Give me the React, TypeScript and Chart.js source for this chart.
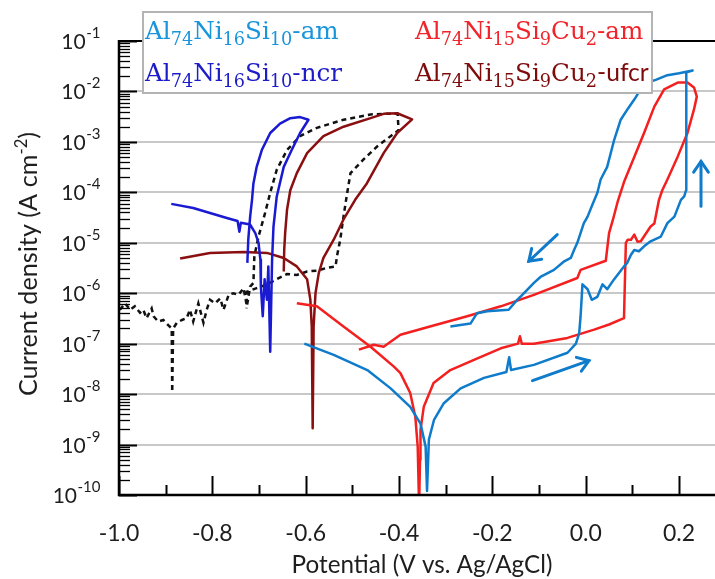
import React, { useEffect, useRef } from 'react';
import { Chart, registerables } from 'chart.js';

Chart.register(...registerables);

// ---------- axes ----------
const X_MIN = -1.0;
const X_MAX = 0.277;
const Y_MIN = 1e-10;
const Y_MAX = 1e-1;
const xMajorTicks = [-1.0, -0.8, -0.6, -0.4, -0.2, 0.0, 0.2];
const xMajorLabels = ['-1.0', '-0.8', '-0.6', '-0.4', '-0.2', '0.0', '0.2'];
const xMinorTicks = [-0.9, -0.7, -0.5, -0.3, -0.1, 0.1];
const yDecades = [-10, -9, -8, -7, -6, -5, -4, -3, -2, -1];
const yMinorMultipliers = [2, 3, 4, 5, 6, 7, 8, 9];
const xTitle = 'Potential (V vs. Ag/AgCl)';
const yTitleMain = 'Current density (A cm';
const yTitleSup = '-2';
const yTitleEnd = ')';

// ---------- series: Al74Ni16Si10-am ----------
const am16V = [-0.603, -0.540, -0.468, -0.418, -0.376, -0.354, -0.343, -0.340, -0.336, -0.325, -0.304, -0.268, -0.218, -0.170, -0.164, -0.160, -0.111, -0.039, -0.021, -0.014, -0.011, -0.007, 0.004, 0.013, 0.025, 0.036, 0.046, 0.061, 0.082, 0.089, 0.097, 0.104, 0.114, 0.125, 0.139, 0.161, 0.175, 0.190, 0.204, 0.211, 0.215, 0.215, 0.216, 0.229, 0.200, 0.175, 0.150, 0.132, 0.115, 0.104, 0.090, 0.075, 0.061, 0.046, 0.032, 0.025, 0.014, 0.004, -0.004, -0.018, -0.025, -0.032, -0.046, -0.068, -0.097, -0.111, -0.140, -0.147, -0.165, -0.211, -0.233, -0.247, -0.290];
const am16I = [1.0e-7, 6.0e-8, 3.0e-8, 1.3e-8, 5.6e-9, 2.6e-9, 9.1e-10, 1.2e-10, 1.26e-9, 3.1e-9, 6.6e-9, 1.3e-8, 2.1e-8, 2.75e-8, 5.4e-8, 3.0e-8, 3.8e-8, 6.6e-8, 1.0e-7, 1.6e-7, 3.5e-7, 1.5e-6, 1.2e-6, 7.4e-7, 8.5e-7, 1.5e-6, 1.2e-6, 1.9e-6, 3.4e-6, 4.0e-6, 5.8e-6, 7.2e-6, 6.8e-6, 8.5e-6, 1.07e-5, 1.33e-5, 2.45e-5, 3.3e-5, 7.1e-5, 8.3e-5, 1.1e-4, 6.9e-3, 2.4e-2, 2.6e-2, 2.3e-2, 2.1e-2, 1.7e-2, 1.5e-2, 1.0e-2, 6.9e-3, 4.5e-3, 2.75e-3, 1.1e-3, 3.2e-4, 1.8e-4, 9.8e-5, 5.6e-5, 3.3e-5, 2.45e-5, 1.0e-5, 7.2e-6, 5.0e-6, 4.3e-6, 2.9e-6, 2.1e-6, 1.6e-6, 8.5e-7, 7.4e-7, 4.7e-7, 4.4e-7, 4.0e-7, 2.5e-7, 2.2e-7];

// ---------- series: Al74Ni16Si10-ncr ----------
const ncrV = [-0.888, -0.841, -0.805, -0.769, -0.746, -0.742, -0.739, -0.719, -0.708, -0.701, -0.697, -0.696, -0.692, -0.688, -0.683, -0.680, -0.676, -0.672, -0.669, -0.662, -0.647, -0.630, -0.612, -0.594, -0.612, -0.633, -0.655, -0.676, -0.694, -0.705, -0.712, -0.715, -0.719, -0.723, -0.725];
const ncrI = [5.9e-5, 4.9e-5, 3.9e-5, 3.1e-5, 2.7e-5, 1.66e-5, 2.5e-5, 2.3e-5, 1.55e-5, 1.0e-5, 4.6e-6, 1.35e-6, 3.5e-7, 1.9e-6, 7.4e-7, 3.4e-6, 6.9e-8, 4.6e-6, 2.1e-5, 8.3e-5, 3.2e-4, 6.9e-4, 1.5e-3, 2.75e-3, 3.1e-3, 2.95e-3, 2.3e-3, 1.5e-3, 6.9e-4, 3.2e-4, 1.5e-4, 7.1e-5, 3.3e-5, 1.15e-5, 4.0e-6];

// ---------- series: Al74Ni15Si9Cu2-am ----------
const am15V = [-0.619, -0.576, -0.519, -0.461, -0.411, -0.397, -0.376, -0.365, -0.360, -0.357, -0.355, -0.354, -0.347, -0.326, -0.290, -0.232, -0.182, -0.145, -0.141, -0.137, -0.111, -0.039, 0.018, 0.050, 0.082, 0.086, 0.090, 0.097, 0.104, 0.111, 0.118, 0.139, 0.147, 0.157, 0.164, 0.175, 0.197, 0.218, 0.232, 0.238, 0.232, 0.218, 0.197, 0.168, 0.147, 0.125, 0.104, 0.082, 0.068, 0.058, 0.050, 0.043, -0.011, -0.018, -0.111, -0.182, -0.254, -0.326, -0.397, -0.433, -0.454, -0.486];
const am15I = [6.3e-7, 5.5e-7, 2.2e-7, 8.7e-8, 3.5e-8, 2.6e-8, 1.05e-8, 3.5e-9, 9.1e-10, 6e-11, 5e-10, 1.95e-9, 5.6e-9, 1.66e-8, 3.0e-8, 5.1e-8, 8.1e-8, 1.0e-7, 1.4e-7, 1.0e-7, 1.0e-7, 1.3e-7, 1.9e-7, 2.4e-7, 3.2e-7, 1.0e-5, 1.15e-5, 1.15e-5, 1.45e-5, 1.05e-5, 1.07e-5, 2.1e-5, 2.4e-5, 7.1e-5, 1.1e-4, 1.8e-4, 5.1e-4, 1.5e-3, 4.4e-3, 7.9e-3, 1.2e-2, 1.5e-2, 1.5e-2, 1.1e-2, 5.0e-3, 1.5e-3, 5.0e-4, 1.6e-4, 6.3e-5, 2.8e-5, 1.55e-5, 4.4e-6, 2.9e-6, 2.0e-6, 9.3e-7, 5.5e-7, 3.5e-7, 2.3e-7, 1.5e-7, 8.7e-8, 9.5e-8, 7.6e-8];

// ---------- series: Al74Ni15Si9Cu2-ufcr ----------
const ufcrV = [-0.869, -0.805, -0.733, -0.683, -0.647, -0.619, -0.597, -0.590, -0.587, -0.585, -0.583, -0.579, -0.572, -0.562, -0.540, -0.519, -0.494, -0.469, -0.433, -0.404, -0.372, -0.404, -0.433, -0.461, -0.519, -0.562, -0.597, -0.619, -0.633, -0.640, -0.644, -0.646, -0.647];
const ufcrI = [4.9e-6, 6.3e-6, 6.6e-6, 6.3e-6, 5.0e-6, 3.4e-6, 1.9e-6, 7.4e-7, 2.2e-7, 2.1e-9, 2.2e-7, 1.0e-6, 2.5e-6, 5.0e-6, 1.15e-5, 2.9e-5, 7.1e-5, 1.5e-4, 6.0e-4, 1.5e-3, 2.8e-3, 3.7e-3, 3.6e-3, 2.95e-3, 2.0e-3, 1.3e-3, 6.0e-4, 2.4e-4, 1.1e-4, 4.5e-5, 1.55e-5, 7.2e-6, 2.7e-6];

// ---------- series: black dashed (unlabelled) ----------
const dashV = [-0.998, -0.987, -0.976, -0.966, -0.955, -0.948, -0.941, -0.930, -0.926, -0.916, -0.905, -0.894, -0.887, -0.886, -0.884, -0.876, -0.865, -0.855, -0.848, -0.841, -0.830, -0.819, -0.812, -0.805, -0.794, -0.783, -0.776, -0.765, -0.755, -0.744, -0.733, -0.726, -0.719, -0.712, -0.710, -0.701, -0.687, -0.676, -0.662, -0.640, -0.612, -0.576, -0.519, -0.461, -0.426, -0.403, -0.401, -0.418, -0.447, -0.476, -0.504, -0.511, -0.519, -0.526, -0.533, -0.536, -0.554, -0.576, -0.597, -0.619, -0.640, -0.662, -0.683, -0.705, -0.726, -0.727];
const dashI = [4.7e-7, 6.3e-7, 4.7e-7, 5.5e-7, 4.1e-7, 4.7e-7, 3.2e-7, 5.0e-7, 3.5e-7, 2.75e-7, 2.95e-7, 2.3e-7, 2.0e-7, 1.1e-8, 2.0e-7, 2.6e-7, 2.95e-7, 3.2e-7, 4.7e-7, 2.75e-7, 6.3e-7, 2.6e-7, 4.7e-7, 7.4e-7, 6.3e-7, 7.9e-7, 4.7e-7, 9.3e-7, 1.0e-6, 9.3e-7, 1.26e-6, 5.5e-7, 1.35e-6, 1.6e-6, 5.4e-6, 1.33e-5, 3.9e-5, 9.8e-5, 2.8e-4, 6.9e-4, 1.3e-3, 1.9e-3, 2.75e-3, 3.5e-3, 3.6e-3, 3.6e-3, 1.7e-3, 1.3e-3, 8.1e-4, 4.5e-4, 2.4e-4, 9.8e-5, 3.3e-5, 1.15e-5, 5.4e-6, 3.4e-6, 3.2e-6, 2.8e-6, 2.7e-6, 2.3e-6, 2.4e-6, 1.9e-6, 1.5e-6, 1.26e-6, 1.07e-6, 5.0e-7];

// ---------- scan-direction arrows ----------
const arrowFromV = [-0.061, 0.247, -0.114];
const arrowFromI = [1.45e-5, 5.3e-5, 1.85e-8];
const arrowToV = [-0.122, 0.247, 0.007];
const arrowToI = [4.3e-6, 4.1e-4, 4.6e-8];

// ---------- legend labels (text, kind) ----------
const labelAm16: [string, string][] = [['Al', 'n'], ['74', 'sub'], ['Ni', 'n'], ['16', 'sub'], ['Si', 'n'], ['10', 'sub'], ['-am', 'n']];
const labelNcr: [string, string][] = [['Al', 'n'], ['74', 'sub'], ['Ni', 'n'], ['16', 'sub'], ['Si', 'n'], ['10', 'sub'], ['-ncr', 'n']];
const labelAm15: [string, string][] = [['Al', 'n'], ['74', 'sub'], ['Ni', 'n'], ['15', 'sub'], ['Si', 'n'], ['9', 'sub'], ['Cu', 'n'], ['2', 'sub'], ['-am', 'n']];
const labelUfcr: [string, string][] = [['Al', 'n'], ['74', 'sub'], ['Ni', 'n'], ['15', 'sub'], ['Si', 'n'], ['9', 'sub'], ['Cu', 'n'], ['2', 'sub'], ['-ufcr', 'sans']];

const COL_AM16 = '#0f7bcb';
const COL_NCR = '#1a1ad2';
const COL_AM15 = '#f41f1f';
const COL_UFCR = '#8a0f10';

const pts = (xs: number[], ys: number[]) => xs.map((x, i) => ({ x, y: ys[i] }));

const SANS = 'Lato, "Open Sans", sans-serif';
const SERIF = '"DejaVu Serif", serif';

function richWidth(ctx: CanvasRenderingContext2D, segs: [string, string][], size: number) {
  let w = 0;
  for (const [t, kind] of segs) {
    if (kind === 'sub') ctx.font = `${size * 0.72}px ${SERIF}`;
    else if (kind === 'sans') ctx.font = `${size}px ${SANS}`;
    else ctx.font = `${size}px ${SERIF}`;
    w += ctx.measureText(t).width;
  }
  return w;
}

function drawRich(ctx: CanvasRenderingContext2D, segs: [string, string][], x: number, baseline: number, color: string, size: number) {
  let cx = x;
  ctx.fillStyle = color;
  ctx.textAlign = 'left';
  ctx.textBaseline = 'alphabetic';
  for (const [t, kind] of segs) {
    let dy = 0;
    if (kind === 'sub') {
      ctx.font = `${size * 0.72}px ${SERIF}`;
      dy = size * 0.26;
    } else if (kind === 'sans') {
      ctx.font = `${size}px ${SANS}`;
    } else {
      ctx.font = `${size}px ${SERIF}`;
    }
    ctx.fillText(t, cx, baseline + dy);
    cx += ctx.measureText(t).width;
  }
}

function fitSize(ctx: CanvasRenderingContext2D, text: string, family: string, target: number) {
  ctx.font = `20px ${family}`;
  return (20 * target) / ctx.measureText(text).width;
}

const decorPlugin = {
  id: 'decor',
  beforeDatasetsDraw(chart: any) {
    const { ctx, chartArea: a, scales } = chart;
    const y = scales.y;
    ctx.save();
    ctx.strokeStyle = '#c8c8c8';
    ctx.lineWidth = 2;
    for (const e of yDecades) {
      if (e <= -10 || e >= -1) continue;
      const py = Math.round(y.getPixelForValue(Math.pow(10, e)));
      ctx.beginPath();
      ctx.moveTo(a.left, py);
      ctx.lineTo(a.right, py);
      ctx.stroke();
    }
    ctx.restore();
  },
  afterDatasetsDraw(chart: any) {
    const { ctx } = chart;
    ctx.save();
    chart.data.datasets.forEach((ds: any, i: number) => {
      if (!ds.isArrow) return;
      const meta = chart.getDatasetMeta(i);
      const p0 = meta.data[0];
      const p1 = meta.data[1];
      const ang = Math.atan2(p1.y - p0.y, p1.x - p0.x);
      const L = 13;
      const spread = 0.6;
      ctx.strokeStyle = ds.borderColor;
      ctx.lineWidth = ds.borderWidth;
      ctx.lineCap = 'round';
      ctx.beginPath();
      ctx.moveTo(p1.x - L * Math.cos(ang - spread), p1.y - L * Math.sin(ang - spread));
      ctx.lineTo(p1.x, p1.y);
      ctx.lineTo(p1.x - L * Math.cos(ang + spread), p1.y - L * Math.sin(ang + spread));
      ctx.stroke();
    });
    ctx.restore();
  },
  afterDraw(chart: any) {
    const { ctx, chartArea: a, scales } = chart;
    const x = scales.x;
    const y = scales.y;
    ctx.save();
    ctx.strokeStyle = '#000';
    ctx.lineCap = 'butt';

    // top line at 1e-1
    ctx.lineWidth = 2;
    ctx.beginPath();
    ctx.moveTo(a.left, a.top);
    ctx.lineTo(a.right, a.top);
    ctx.stroke();

    // y ticks (inward)
    for (const e of yDecades) {
      const py = Math.round(y.getPixelForValue(Math.pow(10, e))) + 0.5;
      ctx.lineWidth = 2;
      ctx.beginPath();
      ctx.moveTo(a.left, py);
      ctx.lineTo(a.left + 18, py);
      ctx.stroke();
      if (e < -1) {
        ctx.lineWidth = 1.3;
        for (const k of yMinorMultipliers) {
          const pm = Math.round(y.getPixelForValue(k * Math.pow(10, e))) + 0.5;
          ctx.beginPath();
          ctx.moveTo(a.left, pm);
          ctx.lineTo(a.left + 11, pm);
          ctx.stroke();
        }
      }
    }
    // x ticks (upward)
    ctx.lineWidth = 2;
    for (const v of xMajorTicks) {
      const px = Math.round(x.getPixelForValue(v)) + 0.5;
      ctx.beginPath();
      ctx.moveTo(px, a.bottom);
      ctx.lineTo(px, a.bottom - 19);
      ctx.stroke();
    }
    for (const v of xMinorTicks) {
      const px = Math.round(x.getPixelForValue(v)) + 0.5;
      ctx.beginPath();
      ctx.moveTo(px, a.bottom);
      ctx.lineTo(px, a.bottom - 10);
      ctx.stroke();
    }

    // axis lines
    ctx.lineWidth = 2.5;
    ctx.beginPath();
    ctx.moveTo(a.left, a.top - 1);
    ctx.lineTo(a.left, a.bottom);
    ctx.lineTo(a.right, a.bottom);
    ctx.stroke();

    // x tick labels
    ctx.fillStyle = '#1e1e1e';
    ctx.font = `23px ${SANS}`;
    ctx.textAlign = 'center';
    ctx.textBaseline = 'alphabetic';
    xMajorTicks.forEach((v, i) => {
      ctx.fillText(xMajorLabels[i], x.getPixelForValue(v), a.bottom + 46);
    });

    // y tick labels 10^e
    const rightEdge = a.left - 19;
    for (const e of yDecades) {
      const py = y.getPixelForValue(Math.pow(10, e));
      ctx.textAlign = 'left';
      ctx.font = `15px ${SANS}`;
      const expT = String(e);
      const we = ctx.measureText(expT).width;
      ctx.font = `21px ${SANS}`;
      const wm = ctx.measureText('10').width;
      const x0 = rightEdge - we - wm;
      ctx.fillText('10', x0, py + 8);
      ctx.font = `15px ${SANS}`;
      ctx.fillText(expT, x0 + wm + 0.5, py - 3);
    }

    // x title
    const xs = fitSize(ctx, xTitle, SANS, 261);
    ctx.font = `${xs}px ${SANS}`;
    ctx.textAlign = 'center';
    ctx.fillText(xTitle, 422, a.bottom + 78);

    // y title (rotated)
    ctx.save();
    ctx.translate(37, 264);
    ctx.rotate(-Math.PI / 2);
    const ys = fitSize(ctx, yTitleMain + ')', SANS, 248);
    const ss = ys * 0.66;
    ctx.font = `${ys}px ${SANS}`;
    const w1 = ctx.measureText(yTitleMain).width;
    ctx.font = `${ss}px ${SANS}`;
    const w2 = ctx.measureText(yTitleSup).width;
    ctx.font = `${ys}px ${SANS}`;
    const w3 = ctx.measureText(yTitleEnd).width;
    const total = w1 + w2 + w3;
    let cx = -total / 2;
    ctx.textAlign = 'left';
    ctx.fillText(yTitleMain, cx, 0);
    cx += w1;
    ctx.font = `${ss}px ${SANS}`;
    ctx.fillText(yTitleSup, cx, -ys * 0.4);
    cx += w2;
    ctx.font = `${ys}px ${SANS}`;
    ctx.fillText(yTitleEnd, cx, 0);
    ctx.restore();

    // legend box
    ctx.fillStyle = '#ffffff';
    ctx.fillRect(143, 12, 509, 81);
    ctx.strokeStyle = '#b4b4b4';
    ctx.lineWidth = 2;
    ctx.strokeRect(143, 12, 509, 81);
    const s1 = (24 * 194) / richWidth(ctx, labelAm16, 24);
    const s2 = (24 * 228) / richWidth(ctx, labelAm15, 24);
    const ls = (s1 + s2) / 2;
    drawRich(ctx, labelAm16, 145, 39, '#1a95db', ls);
    drawRich(ctx, labelNcr, 145, 81, '#1c1cc8', ls);
    drawRich(ctx, labelAm15, 415, 39, '#f0242a', ls);
    drawRich(ctx, labelUfcr, 415, 81, '#7e0b0b', ls);

    ctx.restore();
  },
};

export default function App() {
  const ref = useRef<HTMLCanvasElement>(null);
  useEffect(() => {
    const line = (data: any[], color: string, extra: any = {}) => ({
      data,
      showLine: true,
      borderColor: color,
      backgroundColor: color,
      borderWidth: 2.5,
      pointRadius: 0,
      pointHoverRadius: 0,
      fill: false,
      tension: 0,
      borderJoinStyle: 'round',
      ...extra,
    });
    const datasets: any[] = [
      line(pts(am16V, am16I), COL_AM16, { label: 'Al74Ni16Si10-am' }),
      line(pts(ncrV, ncrI), COL_NCR, { label: 'Al74Ni16Si10-ncr' }),
      line(pts(am15V, am15I), COL_AM15, { label: 'Al74Ni15Si9Cu2-am' }),
      line(pts(ufcrV, ufcrI), COL_UFCR, { label: 'Al74Ni15Si9Cu2-ufcr' }),
      line(pts(dashV, dashI), '#111111', { label: 'dashed', borderDash: [5, 4], borderJoinStyle: 'miter' }),
    ];
    arrowFromV.forEach((v, i) => {
      datasets.push(
        line(
          [
            { x: v, y: arrowFromI[i] },
            { x: arrowToV[i], y: arrowToI[i] },
          ],
          COL_AM16,
          { label: 'arrow' + i, isArrow: true, borderWidth: 3, borderCapStyle: 'round' }
        )
      );
    });

    const chart = new Chart(ref.current as HTMLCanvasElement, {
      type: 'scatter',
      data: { datasets },
      options: {
        animation: false,
        responsive: false,
        events: [],
        layout: { padding: { left: 119, top: 41, right: 0, bottom: 84 } },
        scales: {
          x: { type: 'linear', min: X_MIN, max: X_MAX, display: false },
          y: { type: 'logarithmic', min: Y_MIN, max: Y_MAX, display: false },
        },
        plugins: { legend: { display: false }, tooltip: { enabled: false } },
      },
      plugins: [decorPlugin],
    } as any);
    return () => chart.destroy();
  }, []);
  return (
    <div style={{ position: 'absolute', left: 0, top: 0, width: 715, height: 579, background: '#fff' }}>
      <canvas ref={ref} width={715} height={579} style={{ display: 'block', width: 715, height: 579 }} />
    </div>
  );
}
